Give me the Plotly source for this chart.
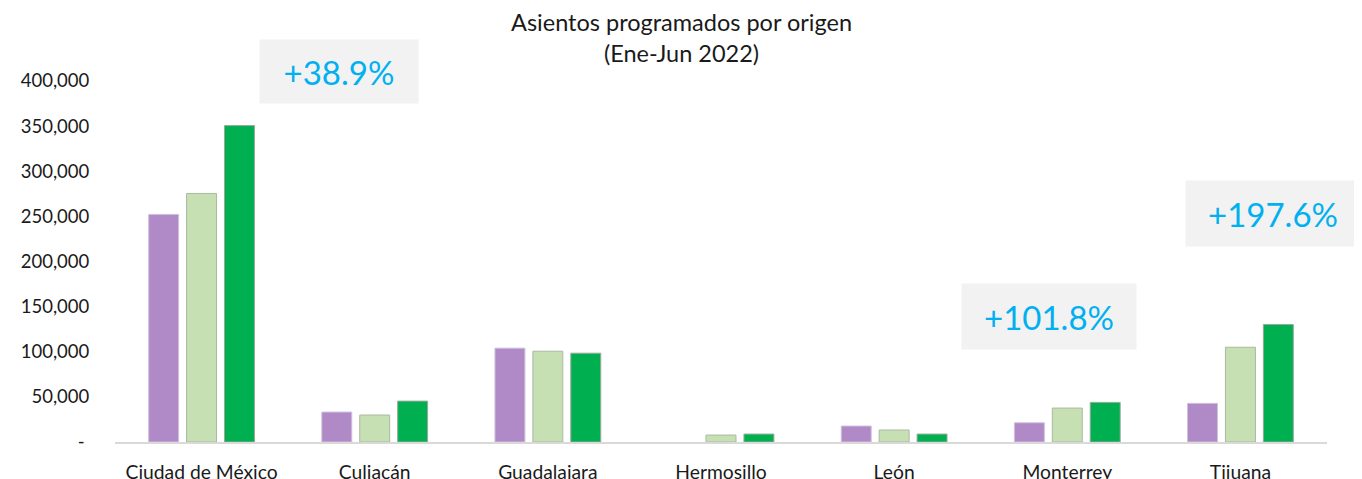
import plotly.graph_objects as go

categories = ["Ciudad de México", "Culiacán", "Guadalajara", "Hermosillo", "León", "Monterrey", "Tijuana"]
series_names = ["2019", "2021", "2022"]
values_2019 = [252200, 33200, 104000, 0, 17700, 21300, 42800]
values_2021 = [275400, 29900, 100600, 7700, 13300, 37600, 105000]
values_2022 = [350600, 45300, 98400, 8800, 8800, 43900, 130200]
colors = ["#B08AC7", "#C6E0B4", "#00B050"]
line_colors = ["#D0C0DC", "#A9B9A0", "#9AA89A"]

y_tickvals = [0, 50000, 100000, 150000, 200000, 250000, 300000, 350000, 400000]
y_ticktext = ["-\u00a0", "50,000", "100,000", "150,000", "200,000",
              "250,000", "300,000", "350,000", "400,000"]

growth_labels = ["+38.9%", "+101.8%", "+197.6%"]
title_text = "Asientos programados por origen<br>(Ene-Jun 2022)"

FONT = "Lato"

fig = go.Figure()
for name, vals, c, lc in zip(series_names, [values_2019, values_2021, values_2022], colors, line_colors):
    fig.add_trace(go.Bar(x=categories, y=vals, name=name,
                         marker=dict(color=c, line=dict(color=lc, width=[1 if v > 0 else 0 for v in vals]))))

# page body has an 8px default margin; compensate so the figure fills the window exactly
OFF = 8
PW, PH = 1362, 479               # page size
pl, pr, pt, pb = 115, 1327, 81, 442  # plot area in page pixels
W, H = PW - OFF, PH - OFF
L, T = pl - OFF, pt - OFF
R = W - (pr - OFF)
B = H - (pb - OFF)

def px_to_paper(x, y):
    return (x - pl) / (pr - pl), (pb - y) / (pb - pt)

boxes = [((339, 71.5), 158, 63), ((1049, 316.5), 174, 65), ((1273, 213.5), 174, 65)]
annotations = []
for text, ((cx, cy), bw, bh) in zip(growth_labels, boxes):
    px, py = px_to_paper(cx, cy)
    annotations.append(dict(
        text=text, x=px, y=py, xref="paper", yref="paper", showarrow=False,
        xanchor="center", yanchor="middle", width=bw, height=bh, borderpad=0,
        bgcolor="#F2F2F2", font=dict(family=FONT, size=33, color="#00B0F0"),
    ))

tx, ty = px_to_paper(681, 37)
annotations.append(dict(text=title_text, x=tx, y=ty, xref="paper", yref="paper", showarrow=False,
                        xanchor="center", yanchor="middle", align="center",
                        font=dict(family=FONT, size=23.5, color="#1a1a1a")))

fig.update_layout(
    width=W, height=H,
    margin=dict(l=L, r=R, t=T, b=B, pad=0, autoexpand=False),
    paper_bgcolor="white", plot_bgcolor="white",
    barmode="group", bargap=0.343, bargroupgap=0.21,
    showlegend=False,
    font=dict(family=FONT, size=19, color="#1a1a1a"),
    annotations=annotations,
    xaxis=dict(showline=True, linecolor="#D9D9D9", linewidth=1.5, showgrid=False, automargin=False,
               ticks="outside", ticklen=12, tickcolor="rgba(0,0,0,0)",
               tickfont=dict(family=FONT, size=19.3, color="#1a1a1a")),
    yaxis=dict(range=[0, 400000], tickvals=y_tickvals, ticktext=y_ticktext, showgrid=False, automargin=False,
               showline=False, zeroline=False, ticks="outside", ticklen=21, tickcolor="rgba(0,0,0,0)",
               tickfont=dict(family=FONT, size=18.5, color="#1a1a1a")),
)

fig.write_html("out.html")
